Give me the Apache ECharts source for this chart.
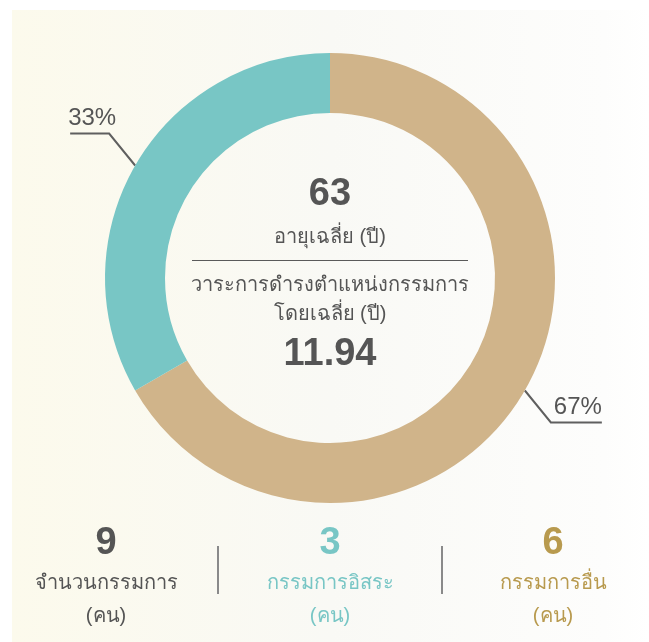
<!DOCTYPE html>
<html>
<head>
<meta charset="utf-8">
<style>
    html, body { margin: 0; padding: 0; background: #fff; }
    #board-chart { width: 649px; height: 642px; }
</style>
<script src="https://cdn.jsdelivr.net/npm/echarts@6/dist/echarts.min.js"></script>
</head>
<body>
<div id="board-chart"></div>
<script>
// ข้อมูลกรรมการ
const categories = ['กรรมการอื่น', 'กรรมการอิสระ'];
const directorCounts = [6, 3];
const totalLabel = ['จำนวนกรรมการ', '(คน)'];
const unitLabel = '(คน)';
const averageAge = 63;
const averageTenure = 11.94;
const ageTitle = 'อายุเฉลี่ย (ปี)';
const tenureTitle = ['วาระการดำรงตำแหน่งกรรมการ', 'โดยเฉลี่ย (ปี)'];

const TEAL = '#78c6c5';
const TAN = '#d0b48a';
const GOLD = '#b89a4e';
const DARK = '#555555';
const FONT = '"Liberation Sans", "Noto Sans", sans-serif';
const sliceColors = [TAN, TEAL];
const cx = 330;
const cy = 278;

const totalCount = directorCounts.reduce((a, b) => a + b, 0);

const centerText = (text, y, size, bold, color) => ({
    type: 'text',
    x: cx,
    y,
    style: {
        text: String(text),
        fill: color || DARK,
        font: `${bold ? 'bold ' : ''}${size}px ${FONT}`,
        align: 'center',
        verticalAlign: 'middle',
    },
});

const statBlock = (x, value, lines, color) => [
    {
        type: 'text',
        x,
        y: 544,
        style: {
            text: String(value),
            fill: color,
            font: `bold 38px ${FONT}`,
            align: 'center',
            verticalAlign: 'middle',
        },
    },
    {
        type: 'text',
        x,
        y: 583,
        style: {
            text: lines[0],
            fill: color,
            font: `20px ${FONT}`,
            align: 'center',
            verticalAlign: 'middle',
        },
    },
    {
        type: 'text',
        x,
        y: 616,
        style: {
            text: lines[1],
            fill: color,
            font: `20px ${FONT}`,
            align: 'center',
            verticalAlign: 'middle',
        },
    },
];

const separator = x => ({
    type: 'line',
    shape: { x1: x, y1: 546, x2: x, y2: 594 },
    style: { stroke: '#8a8a8a', lineWidth: 2 },
});

const el = document.getElementById('board-chart');
const myChart = echarts.init(el, null, { renderer: 'canvas' });
const option = {
    animation: false,
    backgroundColor: '#fff',
    graphic: [
        {
            type: 'rect',
            z: -10,
            shape: { x: 12, y: 10, width: 637, height: 632 },
            style: {
                fill: new echarts.graphic.LinearGradient(0, 0, 1, 0, [
                    { offset: 0, color: '#fcfaec' },
                    { offset: 0.5, color: '#f9f9f5' },
                    { offset: 0.93, color: '#fdfdfc' },
                    { offset: 1, color: '#ffffff' },
                ]),
            },
            silent: true,
        },
        centerText(averageAge, 195, 38, true),
        centerText(ageTitle, 237, 20, false),
        {
            type: 'line',
            shape: { x1: 192, y1: 260.5, x2: 468, y2: 260.5 },
            style: { stroke: '#5a5a5a', lineWidth: 1 },
        },
        centerText(tenureTitle[0], 285, 20, false),
        centerText(tenureTitle[1], 314, 20, false),
        centerText(averageTenure.toFixed(2), 355, 38, true),
        ...statBlock(106, totalCount, totalLabel, DARK),
        separator(218),
        ...statBlock(330, directorCounts[1], [categories[1], unitLabel], TEAL),
        separator(442),
        ...statBlock(553, directorCounts[0], [categories[0], unitLabel], GOLD),
    ],
    series: [
        {
            type: 'pie',
            center: [cx, cy],
            radius: [165, 225],
            startAngle: 90,
            clockwise: true,
            silent: true,
            data: categories.map((name, i) => ({
                name,
                value: directorCounts[i],
                itemStyle: { color: sliceColors[i] },
            })),
            label: {
                show: true,
                formatter: p => `${Math.round(p.percent)}%`,
                color: DARK,
                fontSize: 24,
                fontFamily: FONT,
                overflow: 'none',
            },
            labelLine: {
                show: true,
                length: 30,
                length2: 40,
                lineStyle: { color: '#5f5f5f', width: 2 },
            },
            labelLayout: (params) => {
                const pts = params.labelLinePoints;
                if (!pts) return {};
                const p0 = pts[0];
                const sx = pts[1][0] < p0[0] ? -1 : 1;
                const sy = pts[1][1] < p0[1] ? -1 : 1;
                const p1 = [p0[0] + sx * 26, p0[1] + sy * 32];
                const run = sx < 0 ? 39 : 51;
                const p2 = [p1[0] + sx * run, p1[1]];
                return {
                    x: sx < 0 ? p2[0] - 2 : p2[0],
                    y: p2[1] - 3,
                    align: sx < 0 ? 'left' : 'right',
                    verticalAlign: 'bottom',
                    width: 60,
                    labelLinePoints: [p0, p1, p2],
                };
            },
        },
    ],
};
myChart.setOption(option);
window.addEventListener('resize', () => {
    myChart.resize();
});
</script>
</body>
</html>
